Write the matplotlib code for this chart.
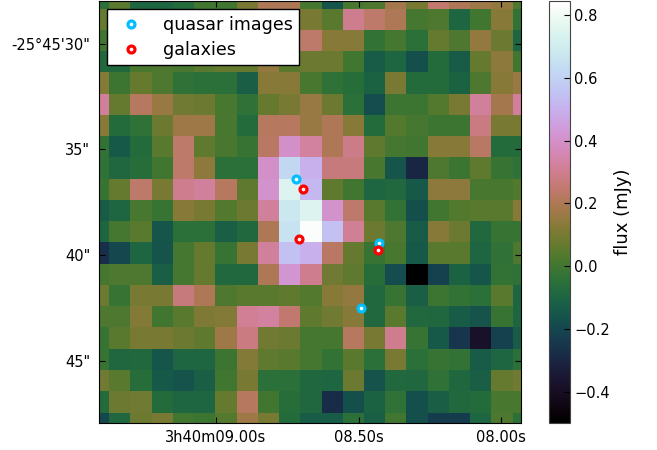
import numpy as np
import matplotlib
matplotlib.use('Agg')
import matplotlib.pyplot as plt

# flux per pixel (mJy), top row first. cells behind the legend are guesses
flux = [
    [-.05, .05, -.1, -.1, -.07, 0, 0, .1, .2, .2, .01, -.15, .02, .03, .18, .1, .25, .2, .17, .15, .03],
    [.07, .08, .03, -.03, .02, .05, .03, .08, .12, .1, .1, .05, .3, .24, .2, .01, .03, -.1, 0, .13, -.03],
    [0, -.03, .05, .02, .08, .1, .02, .05, .08, .13, .24, .13, .13, -.03, .01, -.05, .07, .03, .15, .08, -.1],
    [-.08, -.08, .02, .03, .02, .05, .07, .07, .15, .05, .08, .08, 0, -.13, -.1, -.17, -.07, -.13, .07, .14, 0],
    [.12, -.01, .07, .03, -.04, -.05, -.05, -.12, .13, .13, .02, -.04, -.06, -.11, .1, -.07, -.07, -.11, .03, .13, .16],
    [.32, .07, .22, .16, .09, .08, .02, -.04, .07, .1, .16, .08, -.05, -.18, -.01, -.01, .04, .1, .32, .18, .32],
    [.13, -.07, -.04, .08, .17, .17, .02, -.07, .22, .22, .16, .2, .13, -.07, .04, .01, -.01, -.01, .28, .1, .1],
    [-.03, -.14, -.07, .05, .24, .06, .02, -.02, .23, .4, .33, .2, .29, .06, .01, 0, .13, .13, .23, -.07, -.07],
    [-.04, -.09, -.06, 0, .24, .14, -.05, -.05, .4, .62, .5, .27, .27, .02, -.15, -.3, .03, -.01, .06, -.02, -.04],
    [-.02, .07, .24, .1, .3, .32, .22, .06, .41, .74, .52, .06, 0, -.1, -.08, -.14, .14, .14, .02, .02, .04],
    [-.13, -.1, .02, -.02, .13, .1, .04, .08, .32, .68, .74, .41, .24, .05, -.03, -.17, 0, .04, .05, .05, .13],
    [-.1, .01, .05, -.15, -.05, -.05, -.12, -.08, .2, .66, .83, .55, .31, .08, .03, -.13, .13, .08, -.08, -.02, -.02],
    [-.27, -.2, -.1, -.16, .01, .07, -.02, .1, .32, .55, .5, .23, .07, -.02, .02, -.14, .05, .05, -.1, -.04, .03],
    [.01, .03, .03, -.12, .01, .07, -.08, -.08, .2, .42, .3, .09, .06, -.06, -.18, -.5, -.22, -.11, -.15, -.03, -.04],
    [.08, -.02, .1, .1, .27, .2, .03, .05, .05, .06, .04, .13, .15, -.08, -.02, -.12, -.01, -.03, -.05, .05, -.1],
    [.03, .03, .12, 0, .05, .11, .12, .31, .33, .25, .06, .09, .13, -.08, .05, -.08, -.09, -.13, -.16, -.02, -.1],
    [-.02, .05, .1, .1, .08, .06, .17, .28, .09, .08, .01, .01, .22, .1, .3, -.02, -.14, -.25, -.38, -.22, -.13],
    [-.02, -.09, -.08, -.15, -.1, -.1, -.01, .12, .06, .05, .01, -.03, .05, -.05, .1, -.05, -.02, -.03, -.13, -.1, -.05],
    [.09, .05, -.06, -.14, -.16, -.12, 0, .1, -.05, -.05, -.09, -.1, .08, -.16, -.08, -.09, -.04, -.09, -.12, .07, .09],
    [-.07, .08, .09, -.07, -.1, -.1, .07, .22, 0, -.06, -.09, -.28, -.17, -.11, -.04, -.17, -.12, -.08, -.07, .02, .02],
    [-.2, -.09, .08, .1, 0, -.01, .04, .17, .1, -.07, -.13, -.13, -.05, -.12, 0, -.17, -.23, -.23, -.1, .03, -.05],
]

# positions: RA seconds past 3h40m, Dec arcsec past -25d45m
quasar_ra = [8.719, 8.428, 8.491]
quasar_dec = [36.4, 39.42, 42.5]
galaxy_ra = [8.695, 8.709, 8.432]
galaxy_dec = [36.87, 39.24, 39.76]

ra_ticks = [9.0, 8.5, 8.0]
ra_labels = ['3h40m09.00s', '08.50s', '08.00s']
dec_ticks = [30, 35, 40, 45]
dec_labels = ['-25°45\'30"', '35"', '40"', '45"']
cbar_ticks = [-0.4, -0.2, 0.0, 0.2, 0.4, 0.6, 0.8]

W, H = 657, 450
fig = plt.figure(figsize=(W / 100, H / 100), dpi=100)
ax = fig.add_axes([98.5 / W, 1 - 423 / H, 422.5 / W, 422.5 / H])

im = ax.imshow(flux, cmap='cubehelix', vmin=-0.5, vmax=0.845, aspect='auto',
               interpolation='nearest', extent=[9.451, 7.888, 48.45, 27.37])
ax.set_xlim(9.412, 7.930)
ax.set_ylim(47.94, 27.96)

ax.plot(quasar_ra, quasar_dec, 'o', ms=5, mfc='white', mec='#00bfff', mew=2.3,
        label='quasar images')
ax.plot(galaxy_ra, galaxy_dec, 'o', ms=5, mfc='white', mec='red', mew=2.3,
        label='galaxies')

ax.set_xticks(ra_ticks)
ax.set_xticklabels(ra_labels, fontsize=10.5)
ax.set_yticks(dec_ticks)
ax.set_yticklabels(dec_labels, fontsize=10.5)
ax.tick_params(direction='in', top=True, right=True, length=4)
ax.tick_params(axis='x', pad=5)
ax.tick_params(axis='y', pad=6)

leg = ax.legend(loc='upper left', bbox_to_anchor=(0.021, 0.979), borderaxespad=0,
                fontsize=12.6, numpoints=1, fancybox=False, framealpha=1,
                edgecolor='black', labelspacing=0.4, handletextpad=0.8,
                borderpad=0.36)
leg.get_frame().set_linewidth(1)

cax = fig.add_axes([549 / W, 1 - 423 / H, 21 / W, 422 / H])
cb = fig.colorbar(im, cax=cax, ticks=cbar_ticks)
cb.ax.tick_params(direction='in', length=4, labelsize=10.5, pad=3)
cb.set_label('flux (mJy)', fontsize=13, labelpad=3)
cb.outline.set_edgecolor('#444444')

plt.savefig('out.png', dpi=100)
